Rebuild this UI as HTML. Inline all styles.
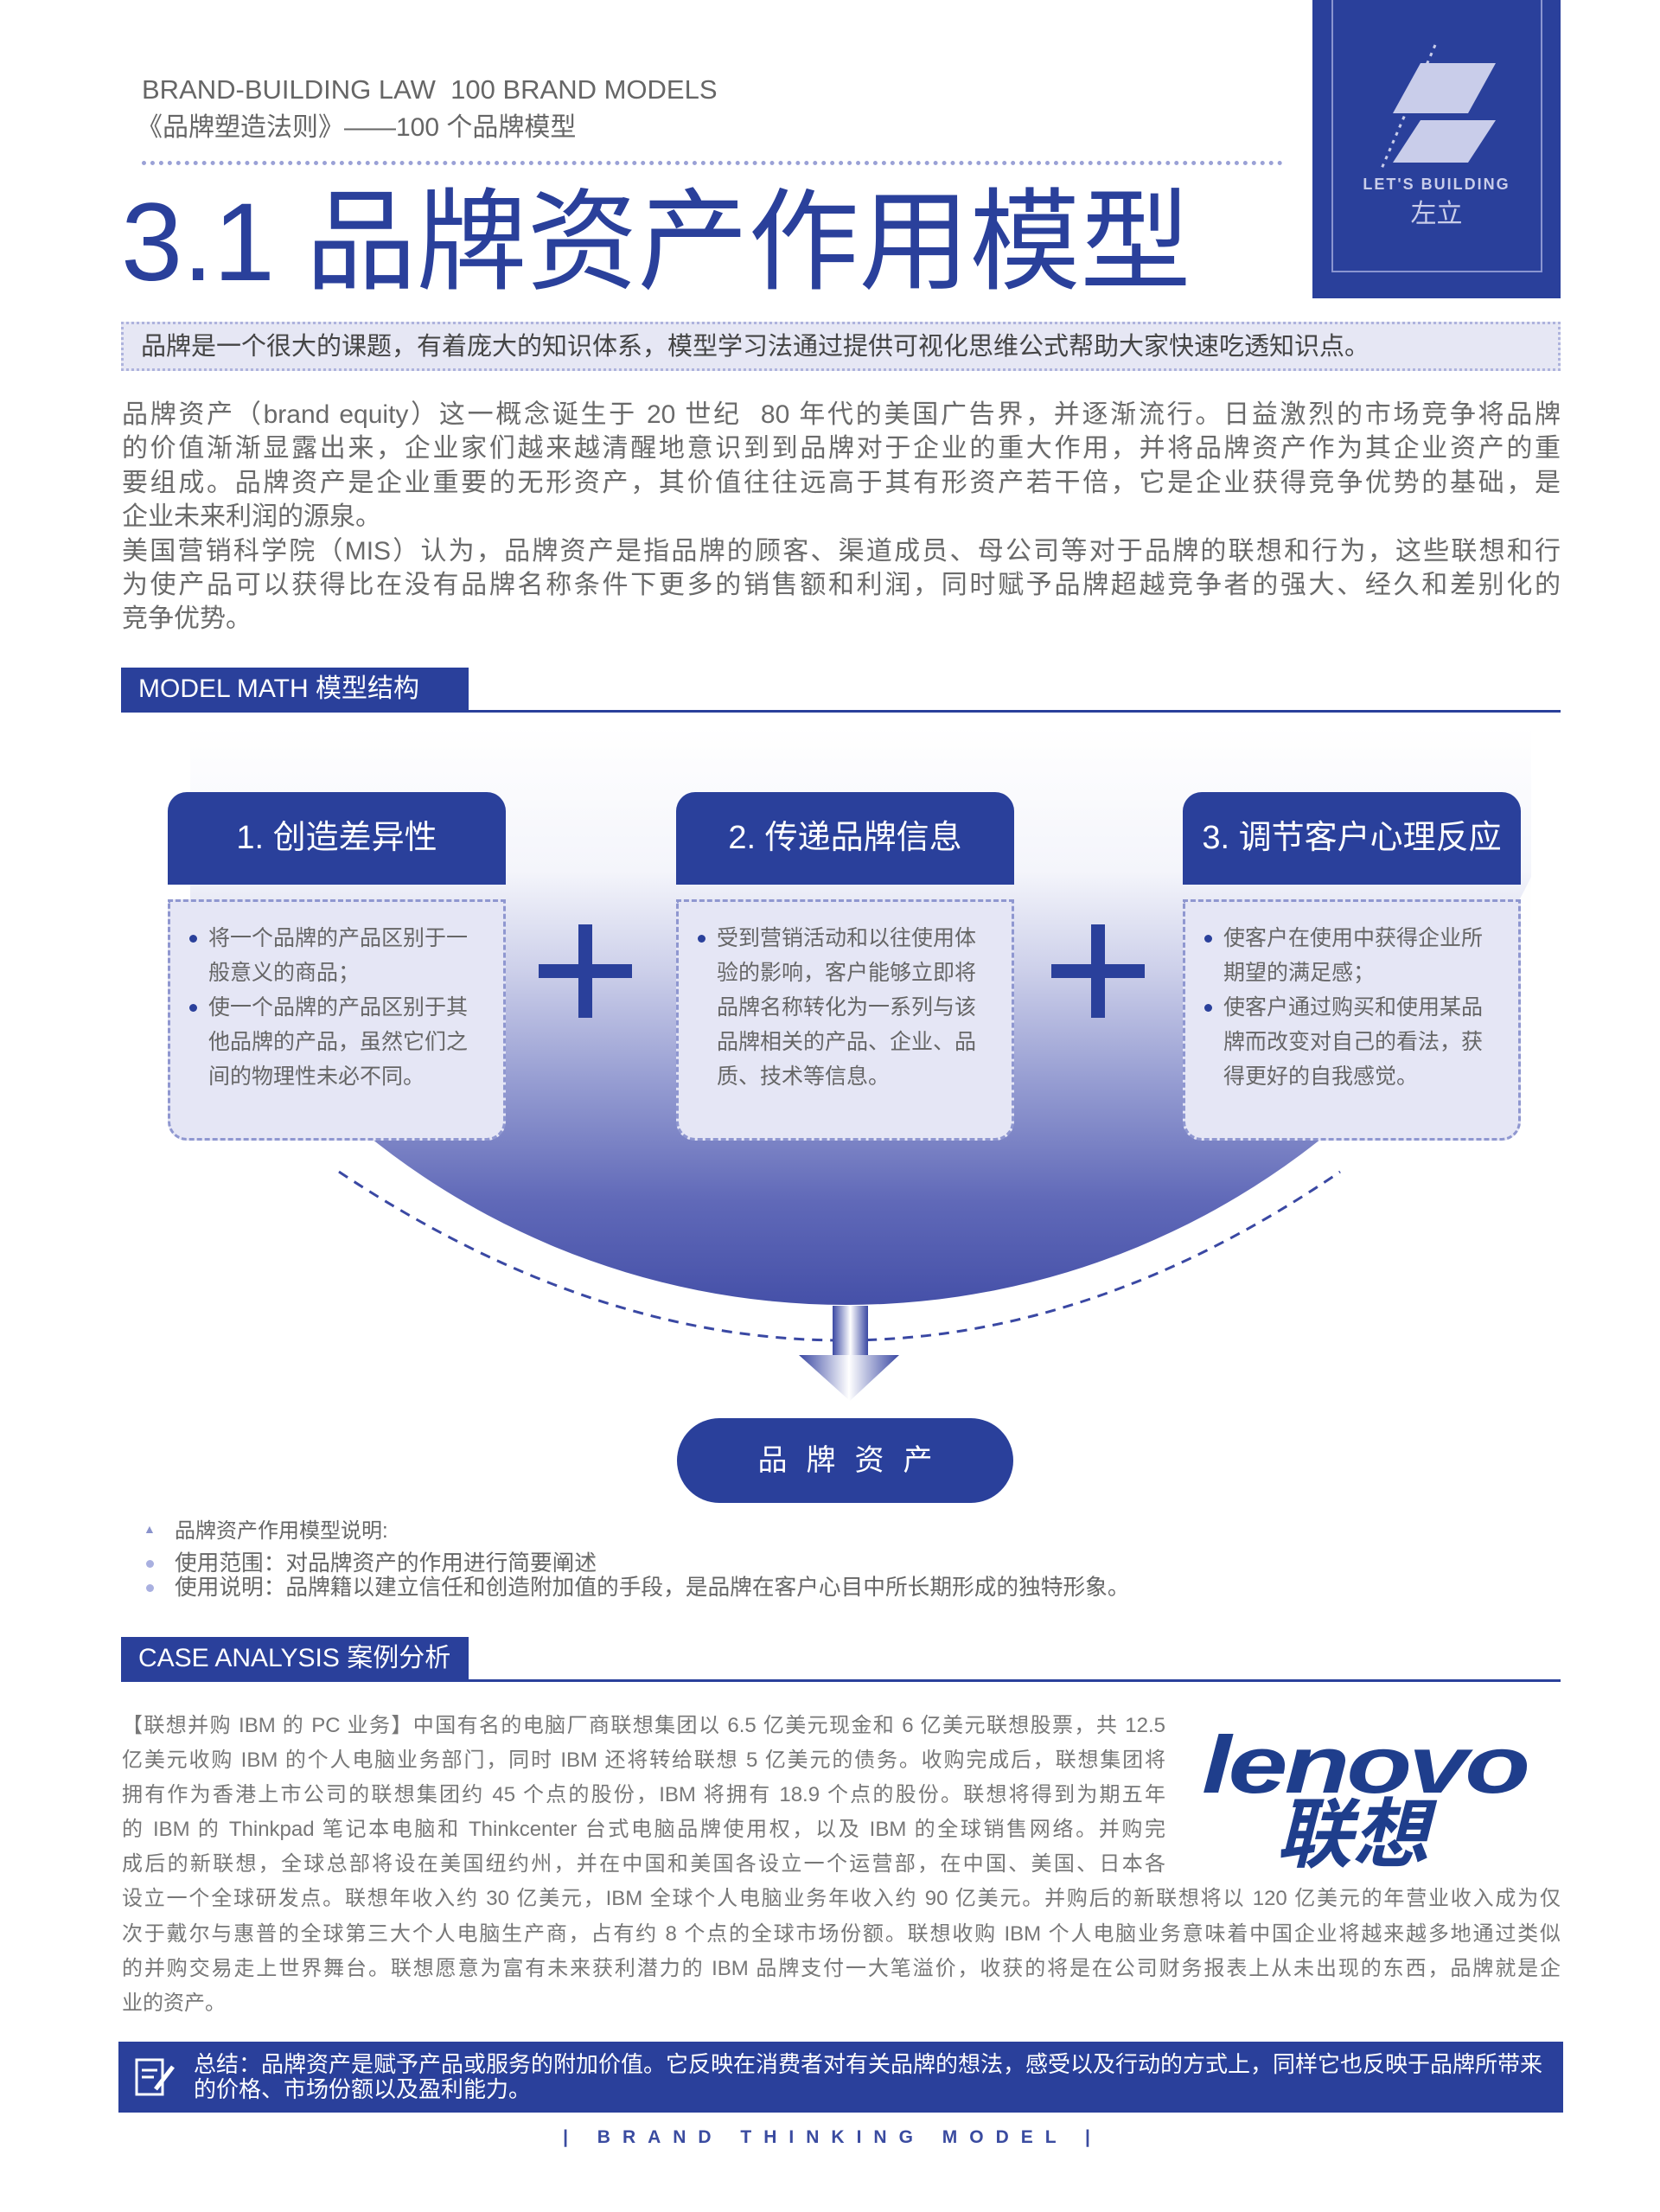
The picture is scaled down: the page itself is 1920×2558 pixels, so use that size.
<!DOCTYPE html>
<html><head><meta charset="utf-8"><style>
*{margin:0;padding:0;box-sizing:border-box}
body{width:1920px;height:2558px;background:#fff;position:relative;overflow:hidden;font-family:"Liberation Sans","Noto Sans CJK SC",sans-serif}
.a{position:absolute}
.j{text-align:justify;text-align-last:justify;white-space:nowrap}
.par div{height:39.4px;line-height:39.4px}
.box{position:absolute;width:391px}
.hd{height:107px;background:#2a409b;border-radius:22px 22px 0 0;color:#fff;font-size:38px;line-height:107px;text-align:center}
.bd{margin-top:17px;height:279px;background:#e5e6f5;border:3px dashed #8f97d0;border-radius:0 0 22px 22px;padding:22px 18px 0 22px;font-size:25px;line-height:40px;color:#666}
.bd p{position:relative;padding-left:22px}
.bd p:before{content:"";position:absolute;left:0;top:16px;width:9px;height:9px;border-radius:50%;background:#2a409b}
.case div{height:40.1px;line-height:40.1px}
</style></head><body>

<div class="a" style="left:164px;top:84px;font-size:31px;color:#666;line-height:40px">BRAND-BUILDING LAW&nbsp; 100 BRAND MODELS</div>
<div class="a" style="left:158px;top:128px;font-size:30px;color:#666;line-height:40px">《品牌塑造法则》——100 个品牌模型</div>
<div class="a" style="left:164px;top:186px;width:1320px;border-top:5px dotted #9aa1d6"></div>
<div class="a" style="left:140px;top:206px;font-size:128px;color:#2a409b;line-height:150px;white-space:nowrap">3.1 品牌资产作用模型</div>

<div class="a" style="left:1518px;top:0;width:287px;height:345px;background:#2a409b"></div>
<div class="a" style="left:1540px;top:-3px;width:244px;height:318px;border:2px solid #8a95d0"></div>
<svg class="a" style="left:1518px;top:0" width="287" height="345">
<polygon points="125,73 212,73 180,131 93,131" fill="#c9cdea"/>
<polygon points="125,139 212,139 180,188 93,188" fill="#c9cdea"/>
<line x1="142" y1="52" x2="80" y2="195" stroke="#c9cdea" stroke-width="3" stroke-dasharray="4,6"/>
</svg>
<div class="a" style="left:1518px;top:203px;width:287px;text-align:center;color:#c9cdea;font-size:18px;font-weight:bold;letter-spacing:2px">LET'S BUILDING</div>
<div class="a" style="left:1518px;top:229px;width:287px;text-align:center;color:#c9cdea;font-size:30px;line-height:38px">左立</div>

<div class="a" style="left:140px;top:372px;width:1665px;height:57px;background:#e6e7f4;border:3px dotted #aeb3dd"></div>
<div class="a" style="left:163px;top:380px;font-size:29px;color:#444;line-height:42px">品牌是一个很大的课题，有着庞大的知识体系，模型学习法通过提供可视化思维公式帮助大家快速吃透知识点。</div>

<div class="a par" style="left:141px;top:460px;width:1664px;font-size:30px;color:#6a6a6a">
<div class="j">品牌资产（brand equity）这一概念诞生于 20 世纪&nbsp; 80 年代的美国广告界，并逐渐流行。日益激烈的市场竞争将品牌</div>
<div class="j">的价值渐渐显露出来，企业家们越来越清醒地意识到到品牌对于企业的重大作用，并将品牌资产作为其企业资产的重</div>
<div class="j">要组成。品牌资产是企业重要的无形资产，其价值往往远高于其有形资产若干倍，它是企业获得竞争优势的基础，是</div>
<div>企业未来利润的源泉。</div>
<div class="j">美国营销科学院（MIS）认为，品牌资产是指品牌的顾客、渠道成员、母公司等对于品牌的联想和行为，这些联想和行</div>
<div class="j">为使产品可以获得比在没有品牌名称条件下更多的销售额和利润，同时赋予品牌超越竞争者的强大、经久和差别化的</div>
<div>竞争优势。</div>
</div>

<div class="a" style="left:140px;top:772px;width:402px;height:50px;background:#2a409b;color:#fff;font-size:30px;line-height:50px;padding-left:20px">MODEL MATH 模型结构</div>
<div class="a" style="left:140px;top:821px;width:1665px;border-top:3px solid #2a409b"></div>

<svg class="a" style="left:0;top:0" width="1920" height="2558">
<defs>
<linearGradient id="bg" gradientUnits="userSpaceOnUse" x1="0" y1="840" x2="0" y2="1110"><stop offset="0" stop-color="#eeeff6"/><stop offset="1" stop-color="#fff" stop-opacity="0"/></linearGradient>
<linearGradient id="disc" gradientUnits="userSpaceOnUse" x1="0" y1="840" x2="0" y2="1510"><stop offset="0" stop-color="#fff"/><stop offset="0.25" stop-color="#f4f5fb"/><stop offset="0.42" stop-color="#cdd0ea"/><stop offset="0.62" stop-color="#949bd1"/><stop offset="0.82" stop-color="#6069b8"/><stop offset="1" stop-color="#4550a8"/></linearGradient>
<linearGradient id="ar" x1="0" y1="0" x2="1" y2="0"><stop offset="0" stop-color="#3a48a3"/><stop offset="0.5" stop-color="#fff"/><stop offset="1" stop-color="#3a48a3"/></linearGradient>
<clipPath id="cl"><rect x="220" y="840" width="1551" height="700"/></clipPath>
</defs>
<rect x="220" y="840" width="1551" height="300" fill="url(#bg)"/>
<circle cx="979" cy="628" r="881" fill="url(#disc)" clip-path="url(#cl)"/>
<path d="M392,1355 Q979,1745 1550,1355" fill="none" stroke="#3a48a3" stroke-width="3" stroke-dasharray="12,9"/>
<rect x="963" y="1510" width="41" height="57" fill="url(#ar)"/>
<polygon points="924,1567 1040,1567 983,1620" fill="url(#ar)"/>
<rect x="623" y="1115" width="108" height="16" fill="#2a409b"/><rect x="669" y="1069" width="16" height="108" fill="#2a409b"/>
<rect x="1216" y="1115" width="108" height="16" fill="#2a409b"/><rect x="1262" y="1069" width="16" height="108" fill="#2a409b"/>
<rect x="783" y="1640" width="389" height="98" rx="49" fill="#2a409b"/>
</svg>

<div class="box" style="left:194px;top:916px"><div class="hd">1. 创造差异性</div><div class="bd"><p>将一个品牌的产品区别于一<br>般意义的商品；</p><p>使一个品牌的产品区别于其<br>他品牌的产品，虽然它们之<br>间的物理性未必不同。</p></div></div>
<div class="box" style="left:782px;top:916px"><div class="hd">2. 传递品牌信息</div><div class="bd"><p>受到营销活动和以往使用体<br>验的影响，客户能够立即将<br>品牌名称转化为一系列与该<br>品牌相关的产品、企业、品<br>质、技术等信息。</p></div></div>
<div class="box" style="left:1368px;top:916px"><div class="hd">3. 调节客户心理反应</div><div class="bd"><p>使客户在使用中获得企业所<br>期望的满足感；</p><p>使客户通过购买和使用某品<br>牌而改变对自己的看法，获<br>得更好的自我感觉。</p></div></div>

<div class="a" style="left:783px;top:1640px;width:389px;line-height:98px;text-align:center;color:#fff;font-size:34px;letter-spacing:22px;padding-left:22px">品牌资产</div>

<div class="a" style="left:166px;top:1760px;font-size:14px;color:#8a93cc">▲</div>
<div class="a" style="left:202px;top:1755px;font-size:24px;color:#666;line-height:32px">品牌资产作用模型说明:</div>
<div class="a" style="left:169px;top:1804px;width:9px;height:9px;border-radius:50%;background:#a9b0e0"></div>
<div class="a" style="left:169px;top:1832px;width:9px;height:9px;border-radius:50%;background:#a9b0e0"></div>
<div class="a" style="left:202px;top:1794px;font-size:25.7px;color:#666;line-height:28px;white-space:nowrap">使用范围：对品牌资产的作用进行简要阐述<br>使用说明：品牌籍以建立信任和创造附加值的手段，是品牌在客户心目中所长期形成的独特形象。</div>

<div class="a" style="left:140px;top:1893px;width:402px;height:50px;background:#2a409b;color:#fff;font-size:30px;line-height:50px;padding-left:20px">CASE ANALYSIS 案例分析</div>
<div class="a" style="left:140px;top:1942px;width:1665px;border-top:3px solid #2a409b"></div>

<div class="a case" style="left:141px;top:1976px;width:1664px;font-size:24px;color:#777">
<div class="j" style="width:1207px">【联想并购 IBM 的 PC 业务】中国有名的电脑厂商联想集团以 6.5 亿美元现金和 6 亿美元联想股票，共 12.5</div>
<div class="j" style="width:1207px">亿美元收购 IBM 的个人电脑业务部门，同时 IBM 还将转给联想 5 亿美元的债务。收购完成后，联想集团将</div>
<div class="j" style="width:1207px">拥有作为香港上市公司的联想集团约 45 个点的股份，IBM 将拥有 18.9 个点的股份。联想将得到为期五年</div>
<div class="j" style="width:1207px">的 IBM 的 Thinkpad 笔记本电脑和 Thinkcenter 台式电脑品牌使用权，以及 IBM 的全球销售网络。并购完</div>
<div class="j" style="width:1207px">成后的新联想，全球总部将设在美国纽约州，并在中国和美国各设立一个运营部，在中国、美国、日本各</div>
<div class="j">设立一个全球研发点。联想年收入约 30 亿美元，IBM 全球个人电脑业务年收入约 90 亿美元。并购后的新联想将以 120 亿美元的年营业收入成为仅</div>
<div class="j">次于戴尔与惠普的全球第三大个人电脑生产商，占有约 8 个点的全球市场份额。联想收购 IBM 个人电脑业务意味着中国企业将越来越多地通过类似</div>
<div class="j">的并购交易走上世界舞台。联想愿意为富有未来获利潜力的 IBM 品牌支付一大笔溢价，收获的将是在公司财务报表上从未出现的东西，品牌就是企</div>
<div>业的资产。</div>
</div>

<div class="a" style="left:1390px;top:1986px;font-size:94px;font-weight:bold;font-style:italic;color:#1f3e8c;letter-spacing:-3px;line-height:110px;transform:scaleX(1.32);transform-origin:left">lenovo</div>
<div class="a" style="left:1476px;top:2074px;font-size:88px;font-weight:bold;font-style:italic;color:#1f3e8c;line-height:96px">联想</div>

<div class="a" style="left:137px;top:2361px;width:1671px;height:82px;background:#2a409b"></div>
<svg class="a" style="left:150px;top:2372px" width="60" height="60"><rect x="8" y="10" width="30" height="40" fill="none" stroke="#fff" stroke-width="3"/><line x1="14" y1="22" x2="32" y2="22" stroke="#fff" stroke-width="3"/><line x1="14" y1="30" x2="28" y2="30" stroke="#fff" stroke-width="3"/><line x1="50" y1="18" x2="30" y2="44" stroke="#fff" stroke-width="5"/></svg>
<div class="a" style="left:224px;top:2373px;font-size:26px;color:#fff;line-height:29px;white-space:nowrap">总结：品牌资产是赋予产品或服务的附加价值。它反映在消费者对有关品牌的想法，感受以及行动的方式上，同样它也反映于品牌所带来<br>的价格、市场份额以及盈利能力。</div>

<div class="a" style="left:643px;top:2457px;width:640px;text-align:center;font-size:21px;font-weight:bold;color:#3a4ba0;letter-spacing:14px;line-height:30px">| BRAND THINKING MODEL |</div>
</body></html>
